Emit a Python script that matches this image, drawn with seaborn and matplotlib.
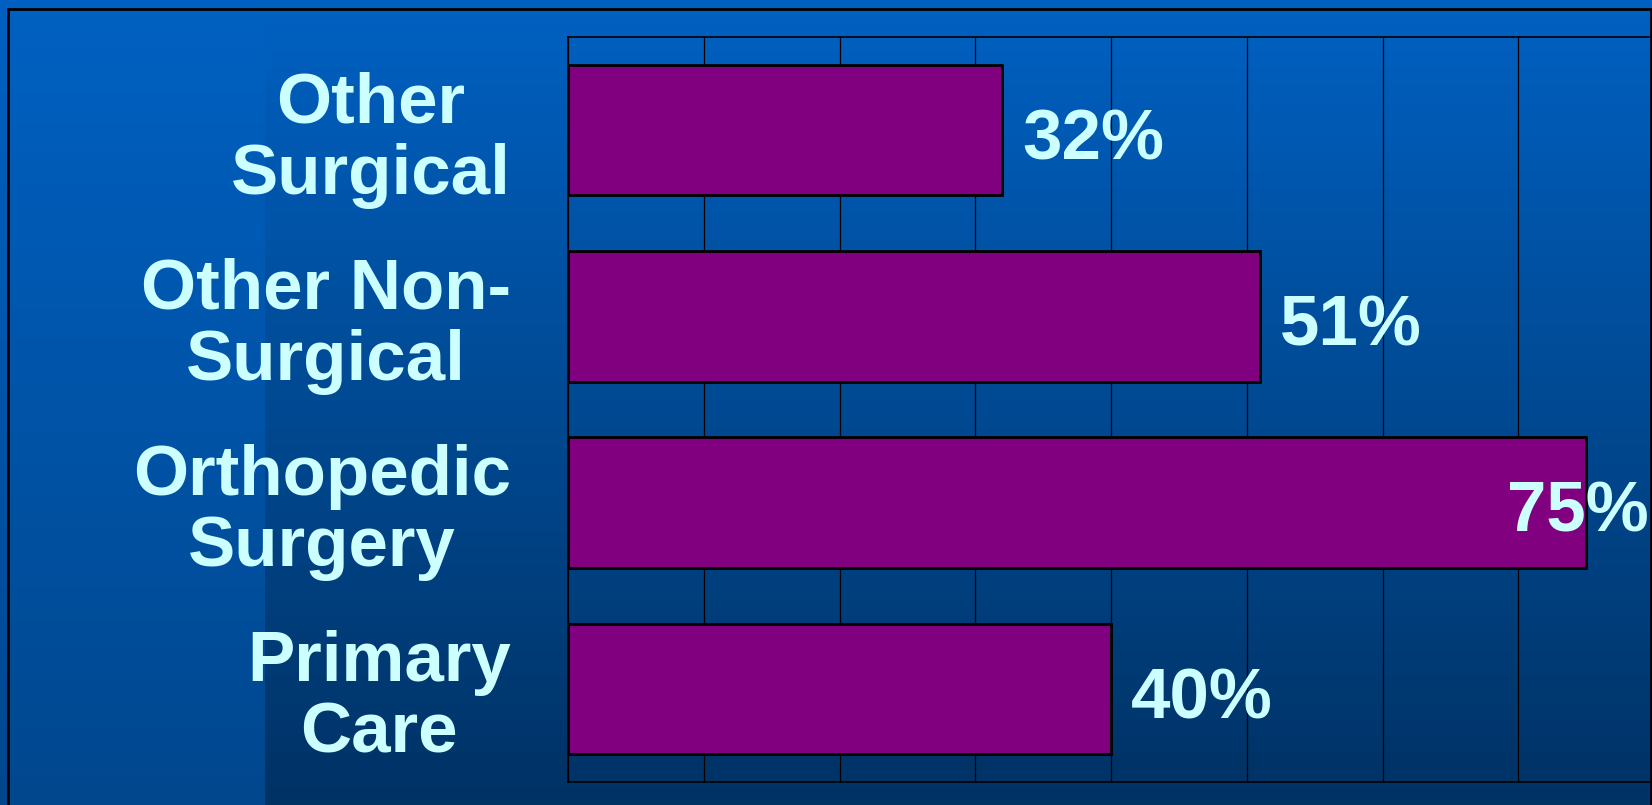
import numpy as np
import pandas as pd
import matplotlib
matplotlib.use("Agg")
import matplotlib.pyplot as plt
from matplotlib.patches import Rectangle
import seaborn as sns

# ---- data ----
categories = ["Other\nSurgical", "Other Non-\nSurgical", "Orthopedic\nSurgery", "Primary\nCare"]
values = [32, 51, 75, 40]
value_labels = ["32%", "51%", "75%", "40%"]
grid_ticks = [0, 10, 20, 30, 40, 50, 60, 70, 80]

df = pd.DataFrame({"category": categories, "value": values})

plt.rcParams["font.family"] = ["Liberation Sans", "DejaVu Sans"]

W, H, DPI = 1652, 805, 100
fig = plt.figure(figsize=(W / DPI, H / DPI), dpi=DPI)

# ---- background gradient ----
bg = fig.add_axes([0, 0, 1, 1], zorder=0)
t = np.linspace(0, 1, H)[:, None]
top = np.array([0x00, 0x61, 0xC2]) / 255
bot_r = np.array([0x00, 0x32, 0x64]) / 255
bot_l = np.array([0x00, 0x47, 0x8E]) / 255
img = np.zeros((H, W, 3))
right_col = top[None, :] * (1 - t) + bot_r[None, :] * t
left_col = top[None, :] * (1 - t) + bot_l[None, :] * t
img[:, :, :] = right_col[:, None, :]
img[:, :265, :] = left_col[:, None, :]
bg.imshow(img, aspect="auto", extent=[0, W, H, 0], interpolation="nearest")
bg.set_xlim(0, W)
bg.set_ylim(H, 0)
bg.axis("off")

# frame
fig.add_artist(Rectangle((8 / W, -0.1), (1651 - 8) / W, 1.1 - 9 / H,
                         transform=fig.transFigure, fill=False,
                         edgecolor="black", linewidth=2, zorder=1))

# ---- main chart ----
left_px, right_px, top_px, bot_px = 568, 1654, 37, 782
ax = fig.add_axes([left_px / W, 1 - bot_px / H, (right_px - left_px) / W, (bot_px - top_px) / H], zorder=2)
ax.patch.set_alpha(0)

sns.barplot(data=df, x="value", y="category", orient="h", ax=ax,
            color="#800080", saturation=1, width=0.7,
            edgecolor="black", linewidth=2.0)

ax.set_xlim(grid_ticks[0], grid_ticks[-1])
ax.set_ylim(len(categories) - 0.5, -0.5)
ax.set_xticks(grid_ticks)
ax.set_xticklabels([])
ax.tick_params(axis="x", length=0)
ax.tick_params(axis="y", length=0, pad=41)
ax.xaxis.grid(True, color="black", linewidth=0.9)
ax.set_axisbelow(True)
ax.set_xlabel("")
ax.set_ylabel("")
for s in ax.spines.values():
    s.set_color("black")
    s.set_linewidth(1.2)

ax.set_yticks(range(len(categories)))
ax.set_yticklabels(categories, fontsize=51, fontweight="bold", color="#CCFFFF")
for lab in ax.get_yticklabels():
    lab.set_multialignment("center")
    lab.set_linespacing(1.1)

fig.canvas.draw()
renderer = fig.canvas.get_renderer()
for i, (v, txt) in enumerate(zip(values, value_labels)):
    tx = ax.annotate(txt, xy=(v, i), xytext=(14, -21), textcoords="offset points",
                     ha="left", va="baseline", fontsize=51, fontweight="bold",
                     color="#CCFFFF", zorder=5, annotation_clip=False)
    bb = tx.get_window_extent(renderer)
    if bb.x1 > W - 1:
        tx.xy = (1.0, i)
        tx.xycoords = ax.get_yaxis_transform()
        tx.set_ha("right")
        tx.xyann = (-4, -21)

fig.savefig("out.png", dpi=DPI)
